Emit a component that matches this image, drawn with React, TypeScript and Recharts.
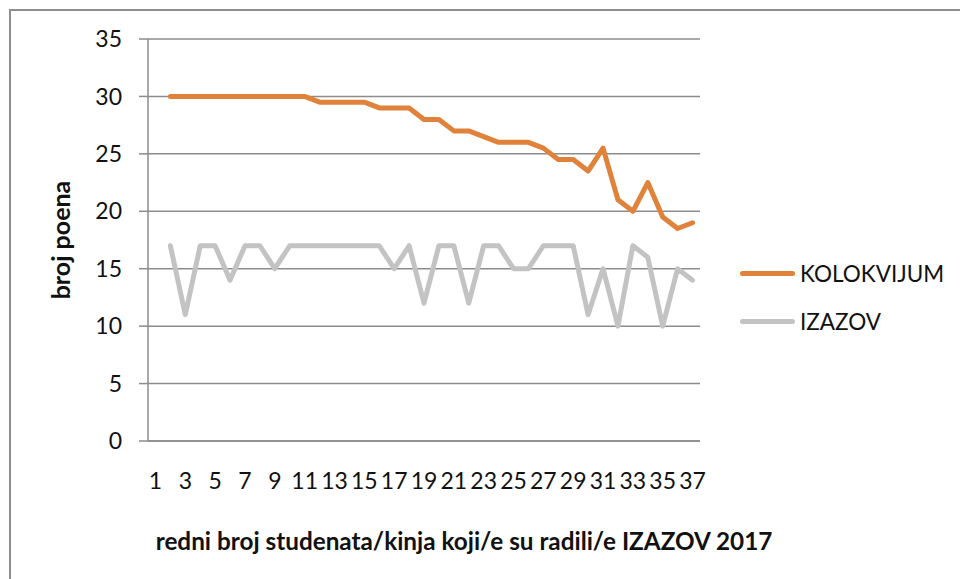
import React from 'react';
import { LineChart, Line, XAxis, YAxis, CartesianGrid, Label } from 'recharts';

const categories: number[] = Array.from({ length: 37 }, (_, i) => i + 1);
const kolokvijum: (number | null)[] = [
  null, 30, 30, 30, 30, 30, 30, 30, 30, 30, 30, 29.5, 29.5, 29.5, 29.5, 29, 29, 29, 28, 28,
  27, 27, 26.5, 26, 26, 26, 25.5, 24.5, 24.5, 23.5, 25.5, 21, 20, 22.5, 19.5, 18.5, 19,
];
const izazov: (number | null)[] = [
  null, 17, 11, 17, 17, 14, 17, 17, 15, 17, 17, 17, 17, 17, 17, 17, 15, 17, 12, 17,
  17, 12, 17, 17, 15, 15, 17, 17, 17, 11, 15, 10, 17, 16, 10, 15, 14,
];
const yTicks: number[] = [0, 5, 10, 15, 20, 25, 30, 35];
const xLabelTicks: number[] = categories.filter((c) => c % 2 === 1);
const xBoundaryTicks: number[] = [...categories.map((c) => c - 0.5), categories[categories.length - 1] + 0.5];

const series = [
  { key: 'kolokvijum', name: 'KOLOKVIJUM', color: '#E0823A' },
  { key: 'izazov', name: 'IZAZOV', color: '#C3C3C3' },
];

const data = categories.map((n, i) => ({ n, kolokvijum: kolokvijum[i], izazov: izazov[i] }));

const FONT = 'Lato, "Open Sans", sans-serif';
const AXIS = '#8C8C8C';

export default function App() {
  return (
    <div style={{ position: 'absolute', left: 0, top: 0, width: 960, height: 579, background: '#fff', fontFamily: FONT }}>
      <div style={{ position: 'absolute', left: 9, top: 9, width: 960, height: 579, borderLeft: '2px solid #8f8f8f', borderTop: '2px solid #8f8f8f' }} />
      <LineChart
        width={960}
        height={579}
        data={data}
        margin={{ top: 39, right: 260, left: 88, bottom: 68 }}
        style={{ position: 'absolute', left: 0, top: 0 }}
      >
        <CartesianGrid horizontal vertical={false} stroke={AXIS} strokeWidth={1.5} />
        <XAxis
          dataKey="n"
          type="number"
          domain={[0.5, 37.5]}
          ticks={xBoundaryTicks}
          tick={false}
          tickSize={6}
          height={10}
          stroke={AXIS}
          strokeWidth={1.5}
          allowDataOverflow
        />
        <XAxis
          xAxisId="lab"
          dataKey="n"
          type="number"
          domain={[0.5, 37.5]}
          ticks={xLabelTicks}
          interval={0}
          axisLine={false}
          tickLine={false}
          tickSize={0}
          tickMargin={22}
          height={60}
          tick={{ fill: '#111', fontSize: 23, fontFamily: FONT }}
          allowDataOverflow
        >
          <Label
            content={(props: any) => {
              const vb = props.viewBox || {};
              return (
                <text
                  x={vb.x + vb.width / 2 + 40}
                  y={540}
                  textAnchor="middle"
                  dominantBaseline="central"
                  fontFamily={FONT}
                  fontWeight="bold"
                  fontSize={24.3}
                  fill="#111"
                >
                  redni broj studenata/kinja koji/e su radili/e IZAZOV 2017
                </text>
              );
            }}
          />
        </XAxis>
        <YAxis
          domain={[0, 35]}
          ticks={yTicks}
          interval={0}
          width={60}
          tickSize={9}
          tickMargin={17}
          stroke={AXIS}
          strokeWidth={1.5}
          tick={{ fill: '#111', fontSize: 23, fontFamily: FONT }}
        >
          <Label
            content={(props: any) => {
              const vb = props.viewBox || {};
              const cx = 60;
              const cy = vb.y + vb.height / 2;
              return (
                <text
                  x={cx}
                  y={cy}
                  transform={`rotate(-90 ${cx} ${cy})`}
                  textAnchor="middle"
                  dominantBaseline="central"
                  fontFamily={FONT}
                  fontWeight="bold"
                  fontSize={25}
                  fill="#111"
                >
                  broj poena
                </text>
              );
            }}
          />
        </YAxis>
        {series.map((s) => (
          <Line
            key={s.key}
            dataKey={s.key}
            name={s.name}
            stroke={s.color}
            strokeWidth={5}
            strokeLinecap="round"
            strokeLinejoin="round"
            dot={false}
            activeDot={false}
            isAnimationActive={false}
          />
        ))}
      </LineChart>
      {series.map((s, i) => (
        <div key={s.key} style={{ position: 'absolute', left: 740, top: 273 + i * 48 - 15, height: 30, display: 'flex', alignItems: 'center' }}>
          <div style={{ width: 55, height: 5, borderRadius: 3, background: s.color }} />
          <span style={{ marginLeft: 5, fontSize: 22.5, color: '#111', fontFamily: FONT }}>{s.name}</span>
        </div>
      ))}
    </div>
  );
}
